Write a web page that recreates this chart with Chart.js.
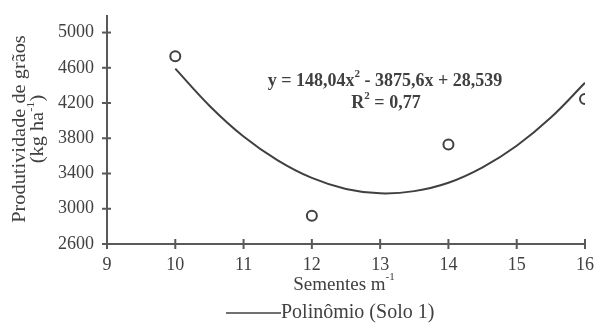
<!DOCTYPE html>
<html>
<head>
<meta charset="utf-8">
<style>
  html, body { margin: 0; background: #fff; }
  #wrap { width: 598px; height: 323px; }
</style>
</head>
<body>
<div id="wrap"><canvas id="chart"></canvas></div>
<script src="https://cdn.jsdelivr.net/npm/chart.js@4/dist/chart.umd.min.js"></script>
<script>
const seeds = [10, 12, 14, 16];
const yieldObs = [4730, 2920, 3730, 4245];
// trend curve
const fitX = [10, 10.5, 11, 11.5, 12, 12.5, 13, 13.5, 14, 14.5, 15, 15.5, 16];
const fitY = [4590, 4170, 3820, 3550, 3350, 3225, 3175, 3200, 3295, 3470, 3715, 4035, 4430];
const yTicks = [2600, 3000, 3400, 3800, 4200, 4600, 5000];
const xTicks = [9, 10, 11, 12, 13, 14, 15, 16];

const ink = "#404040";
const axisColor = "#595959";
const fontFamily = "'Liberation Serif', 'Times New Roman', serif";

// draws text made of [text, isSuperscript] parts, centred on cx
function drawParts(ctx, parts, cx, cy, size, weight) {
  const w0 = weight || "normal";
  const big = w0 + " " + size + "px " + fontFamily;
  const small = w0 + " " + Math.round(size * 0.6) + "px " + fontFamily;
  let w = 0;
  parts.forEach(([t, sup]) => {
    ctx.font = sup ? small : big;
    w += ctx.measureText(t).width;
  });
  let x = cx - w / 2;
  ctx.textAlign = "left";
  ctx.textBaseline = "middle";
  parts.forEach(([t, sup]) => {
    ctx.font = sup ? small : big;
    ctx.fillText(t, x, sup ? cy - size * 0.4 : cy);
    x += ctx.measureText(t).width;
  });
}

const extras = {
  id: "extras",
  afterDraw(chart) {
    const ctx = chart.ctx;
    const xs = chart.scales.x, ys = chart.scales.y;
    ctx.save();
    // tick marks crossing the axes
    ctx.strokeStyle = axisColor;
    ctx.lineWidth = 2;
    yTicks.forEach((v) => {
      const py = ys.getPixelForValue(v);
      ctx.beginPath();
      ctx.moveTo(xs.left - 5, py);
      ctx.lineTo(xs.left + 4, py);
      ctx.stroke();
    });
    xTicks.forEach((v) => {
      const px = xs.getPixelForValue(v);
      ctx.beginPath();
      ctx.moveTo(px, ys.bottom - 5);
      ctx.lineTo(px, ys.bottom + 5);
      ctx.stroke();
    });

    ctx.fillStyle = ink;
    // equation
    drawParts(ctx, [["y = 148,04x", false], ["2", true], [" - 3875,6x + 28,539", false]], 385, 81, 18, "bold");
    drawParts(ctx, [["R", false], ["2", true], [" = 0,77", false]], 386, 103, 18, "bold");

    // x title
    drawParts(ctx, [["Sementes m", false], ["-1", true]], 344, 285, 19);

    // y title (stretched along the text like the original)
    ctx.translate(0, 129);
    ctx.rotate(-Math.PI / 2);
    ctx.scale(1.13, 1);
    drawParts(ctx, [["Produtividade de grãos", false]], 0, 20, 18);
    drawParts(ctx, [["(kg ha", false], ["-1", true], [")", false]], 0, 38, 18);
    ctx.restore();

    // legend
    ctx.save();
    ctx.strokeStyle = ink;
    ctx.lineWidth = 1.5;
    ctx.beginPath();
    ctx.moveTo(226, 313);
    ctx.lineTo(281, 313);
    ctx.stroke();
    ctx.fillStyle = ink;
    ctx.font = "20px " + fontFamily;
    ctx.textAlign = "left";
    ctx.textBaseline = "middle";
    ctx.fillText("Polinômio (Solo 1)", 281, 313);
    ctx.restore();
  },
};

const ctx = document.getElementById("chart").getContext("2d");
const chart = new Chart(ctx, {
  type: "scatter",
  data: {
    datasets: [
      {
        label: "Polinômio (Solo 1)",
        data: fitX.map((x, i) => ({ x: x, y: fitY[i] })),
        showLine: true,
        borderColor: ink,
        borderWidth: 2,
        pointRadius: 0,
        tension: 0.4,
        fill: false,
      },
      {
        label: "Solo 1",
        data: seeds.map((x, i) => ({ x: x, y: yieldObs[i] })),
        pointStyle: "circle",
        pointRadius: 5,
        pointBorderWidth: 2,
        pointBorderColor: ink,
        pointBackgroundColor: "#fff",
      },
    ],
  },
  options: {
    responsive: true,
    maintainAspectRatio: false,
    animation: false,
    events: [],
    layout: { padding: { top: 8, right: 13, left: 0, bottom: 0 } },
    plugins: {
      legend: { display: false },
      tooltip: { enabled: false },
    },
    scales: {
      x: {
        type: "linear",
        min: 9,
        max: 16,
        afterBuildTicks: (s) => { s.ticks = xTicks.map((v) => ({ value: v })); },
        afterFit: (s) => { s.height = 79; },
        grid: { display: false },
        border: { display: true, color: axisColor, width: 2 },
        ticks: {
          color: ink,
          padding: 2,
          maxRotation: 0,
          callback: (v) => String(v),
          font: { family: fontFamily, size: 18 },
        },
      },
      y: {
        type: "linear",
        min: 2600,
        max: 5190,
        afterBuildTicks: (s) => { s.ticks = yTicks.map((v) => ({ value: v })); },
        afterFit: (s) => { s.width = 107; },
        grid: { display: false },
        border: { display: true, color: axisColor, width: 2 },
        ticks: {
          color: ink,
          padding: 5,
          callback: (v) => String(v),
          font: { family: fontFamily, size: 18 },
        },
      },
    },
  },
  plugins: [extras],
});
</script>
</body>
</html>
